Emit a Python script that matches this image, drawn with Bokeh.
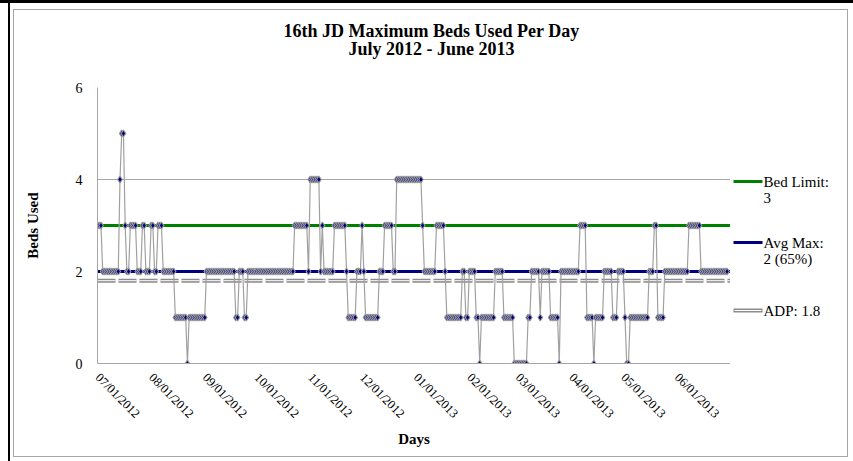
import math
import pandas as pd
from bokeh.plotting import figure
from bokeh.layouts import column, row
from bokeh.models import (FixedTicker, DatetimeTickFormatter, Label, Range1d, Span)
from bokeh.embed import file_html
from bokeh.resources import INLINE

# ---------------- data ----------------
start_date = "2012-07-01"
jul_2012 = [3,3,3,2,2,2,2,2,2,2, 2,2,2,4,5,5,3,2,2,3, 3,3,3,2,2,2,3,3,2,2, 2]
aug_2012 = [3,3,2,2,3,3,3,2,2,2, 2,2,2,2,1,1,1,1,1,1, 1,0,1,1,1,1,1,1,1,1, 1]
sep_2012 = [1,2,2,2,2,2,2,2,2,2, 2,2,2,2,2,2,2,2,1,1, 2,2,2,1,1,2,2,2,2,2]
oct_2012 = [2,2,2,2,2,2,2,2,2,2, 2,2,2,2,2,2,2,2,2,2, 2,2,3,3,3,3,3,3,3,3, 2]
nov_2012 = [4,4,4,4,4,4,2,3,2,2, 2,2,2,2,3,3,3,3,3,3, 3,2,1,1,1,1,1,2,2,2]
dec_2012 = [3,2,1,1,1,1,1,1,1,1, 2,2,2,3,3,3,3,3,2,2, 4,4,4,4,4,4,4,4,4,4, 4]
jan_2013 = [4,4,4,4,3,2,2,2,2,2, 2,2,3,3,3,3,3,2,1,1, 1,1,1,1,1,1,1,2,2,1, 1]
feb_2013 = [2,2,2,2,1,1,0,1,1,1, 1,1,1,1,1,2,2,2,2,2, 1,1,1,1,1,1,0,0]
mar_2013 = [0,0,0,0,0,0,1,1,2,2, 2,2,2,1,2,2,2,2,2,1, 1,1,1,1,0,2,2,2,2,2, 2]
apr_2013 = [2,2,2,2,2,3,3,3,3,1, 1,1,1,0,1,1,1,1,1,2, 2,2,2,2,1,1,1,2,2,2]
may_2013 = [2,1,0,0,1,1,1,1,1,1, 1,1,1,1,1,2,2,2,3,3, 1,1,1,1,2,2,2,2,2,2, 2]
jun_2013 = [2,2,2,2,2,2,2,3,3,3, 3,3,3,3,2,2,2,2,2,2, 2,2,2,2,2,2,2,2,2,2]

bed_limit = 3
avg_max = 2
adp = 1.8

title_lines = ["16th JD Maximum Beds Used Per Day", "July 2012 - June 2013"]
tick_labels = ["07/01/2012", "08/01/2012", "09/01/2012", "10/01/2012", "11/01/2012",
               "12/01/2012", "01/01/2013", "02/01/2013", "03/01/2013", "04/01/2013",
               "05/01/2013", "06/01/2013"]
y_ticks = [0, 2, 4, 6]
legend_lines = [("Bed Limit:", "3"), ("Avg Max:", "2 (65%)"), ("ADP: 1.8", None)]

beds = (jul_2012 + aug_2012 + sep_2012 + oct_2012 + nov_2012 + dec_2012 +
        jan_2013 + feb_2013 + mar_2013 + apr_2013 + may_2013 + jun_2013)
dates = pd.date_range(start_date, periods=len(beds), freq="D")

SERIF = "Liberation Serif"
GREEN = "#008000"
NAVY = "#000080"
GRAY = "#8c8c8c"

TOTAL_W, TOTAL_H = 853, 461
TITLE_H = 70
MAIN_W = 730
LEG_W = TOTAL_W - MAIN_W
BODY_H = TOTAL_H - TITLE_H
FRAME_TOP, FRAME_BOTTOM = 87, 363


def blank_fig(w, h, xr, yr):
    f = figure(width=w, height=h, x_range=xr, y_range=yr,
               x_axis_location=None, y_axis_location=None,
               output_backend="svg", toolbar_location=None, min_border=0)
    f.xgrid.visible = False
    f.ygrid.visible = False
    f.outline_line_color = None
    f.background_fill_color = None
    f.border_fill_color = None
    return f


# ---------------- title ----------------
tf = blank_fig(TOTAL_W, TITLE_H, Range1d(0, TOTAL_W), Range1d(TITLE_H, 0))
for txt, ty in zip(title_lines, [30, 48]):
    tf.add_layout(Label(x=431, y=ty, text=txt, text_align="center",
                        text_baseline="middle", text_font=SERIF,
                        text_font_size="18px", text_font_style="bold",
                        text_color="black"))

# ---------------- main plot ----------------
x0 = pd.Timestamp("2012-07-01")
x1 = pd.Timestamp("2013-07-02")

p = figure(width=MAIN_W, height=BODY_H, x_axis_type="datetime",
           output_backend="svg", toolbar_location=None,
           x_range=Range1d(x0, x1), y_range=Range1d(0, 6),
           min_border_left=97, min_border_right=0,
           min_border_top=FRAME_TOP - TITLE_H, min_border_bottom=TOTAL_H - FRAME_BOTTOM)
p.outline_line_color = None
p.background_fill_color = "white"
p.border_fill_color = None

p.xgrid.visible = False
p.ygrid.ticker = FixedTicker(ticks=y_ticks)
p.ygrid.grid_line_color = "#a6a6a6"
p.ygrid.grid_line_width = 1

yax = p.yaxis[0]
yax.ticker = FixedTicker(ticks=y_ticks)
yax.axis_line_color = "#a6a6a6"
yax.major_tick_line_color = None
yax.major_tick_out = 0
yax.major_tick_in = 0
yax.minor_tick_line_color = None
yax.minor_tick_out = 0
yax.major_label_text_font = SERIF
yax.major_label_text_font_size = "14px"
yax.major_label_text_color = "black"
yax.major_label_standoff = 15
yax.axis_label = "Beds Used"
yax.axis_label_text_font = SERIF
yax.axis_label_text_font_size = "15px"
yax.axis_label_text_font_style = "bold"
yax.axis_label_text_color = "black"
yax.axis_label_standoff = 32

tick_ms = [pd.to_datetime(t, format="%m/%d/%Y").timestamp() * 1000 for t in tick_labels]
xax = p.xaxis[0]
xax.ticker = FixedTicker(ticks=tick_ms)
fmt = "%m/%d/%Y"
xax.formatter = DatetimeTickFormatter(microseconds=fmt, milliseconds=fmt, seconds=fmt,
                                      minsec=fmt, minutes=fmt, hourmin=fmt, hours=fmt,
                                      days=fmt, months=fmt, years=fmt)
xax.axis_line_color = "#a6a6a6"
xax.major_tick_line_color = None
xax.major_tick_out = 0
xax.major_tick_in = 0
xax.minor_tick_line_color = None
xax.minor_tick_out = 0
xax.major_label_orientation = -math.pi / 4
xax.major_label_text_font = SERIF
xax.major_label_text_font_size = "12.5px"
xax.major_label_text_color = "black"
xax.major_label_standoff = 12
xax.axis_label = "Days"
xax.axis_label_text_font = SERIF
xax.axis_label_text_font_size = "15px"
xax.axis_label_text_font_style = "bold"
xax.axis_label_text_color = "black"
xax.axis_label_standoff = 2

p.add_layout(Span(location=bed_limit, dimension="width", line_color=GREEN,
                  line_width=3, level="underlay"))
p.add_layout(Span(location=avg_max, dimension="width", line_color=NAVY,
                  line_width=3, level="underlay"))
p.add_layout(Span(location=adp, dimension="width", line_color=GRAY,
                  line_width=4, line_dash="18 3", level="underlay"))
p.add_layout(Span(location=adp, dimension="width", line_color="white",
                  line_width=1, line_dash="18 3", level="underlay"))

p.line(dates, beds, line_color="#a0a0a0", line_width=1.2)
p.scatter(dates, beds, marker="diamond", size=7, fill_color=NAVY,
          line_color="#9a9a9a", line_width=1.2)

# ---------------- legend (own small canvas; its frame is aligned with the plot frame,
# so its y range is expressed in page pixels of that frame) ----------------
lf = blank_fig(LEG_W, BODY_H, Range1d(MAIN_W, TOTAL_W), Range1d(FRAME_BOTTOM, FRAME_TOP))
legend_y = [181, 242, 310]
legend_col = [GREEN, NAVY, GRAY]
for (l1, l2), ly, col in zip(legend_lines, legend_y, legend_col):
    if col == GRAY:
        lf.line([733, 762], [ly, ly], line_color=col, line_width=4)
        lf.line([734, 761], [ly, ly], line_color="white", line_width=1)
    else:
        lf.line([733, 762], [ly, ly], line_color=col, line_width=3)
    lf.add_layout(Label(x=763, y=ly, text=l1, text_baseline="middle",
                        text_font=SERIF, text_font_size="15px", text_color="black"))
    if l2:
        lf.add_layout(Label(x=763, y=ly + 16, text=l2, text_baseline="middle",
                            text_font=SERIF, text_font_size="15px", text_color="black"))

layout = column(tf, row(p, lf))
layout.styles = {
    "background": "white",
    "box-shadow": ("inset 0 3px 0 0 #000, inset 8px 0 0 0 #fff, inset 10px 0 0 0 #000, "
                   "inset 13px 9px 0 0 #fff, inset -5px -4px 0 0 #fff, "
                   "inset 14px 10px 0 0 #a6a6a6, inset -6px -5px 0 0 #a6a6a6"),
}

open("out.html", "w").write(file_html(layout, INLINE))
